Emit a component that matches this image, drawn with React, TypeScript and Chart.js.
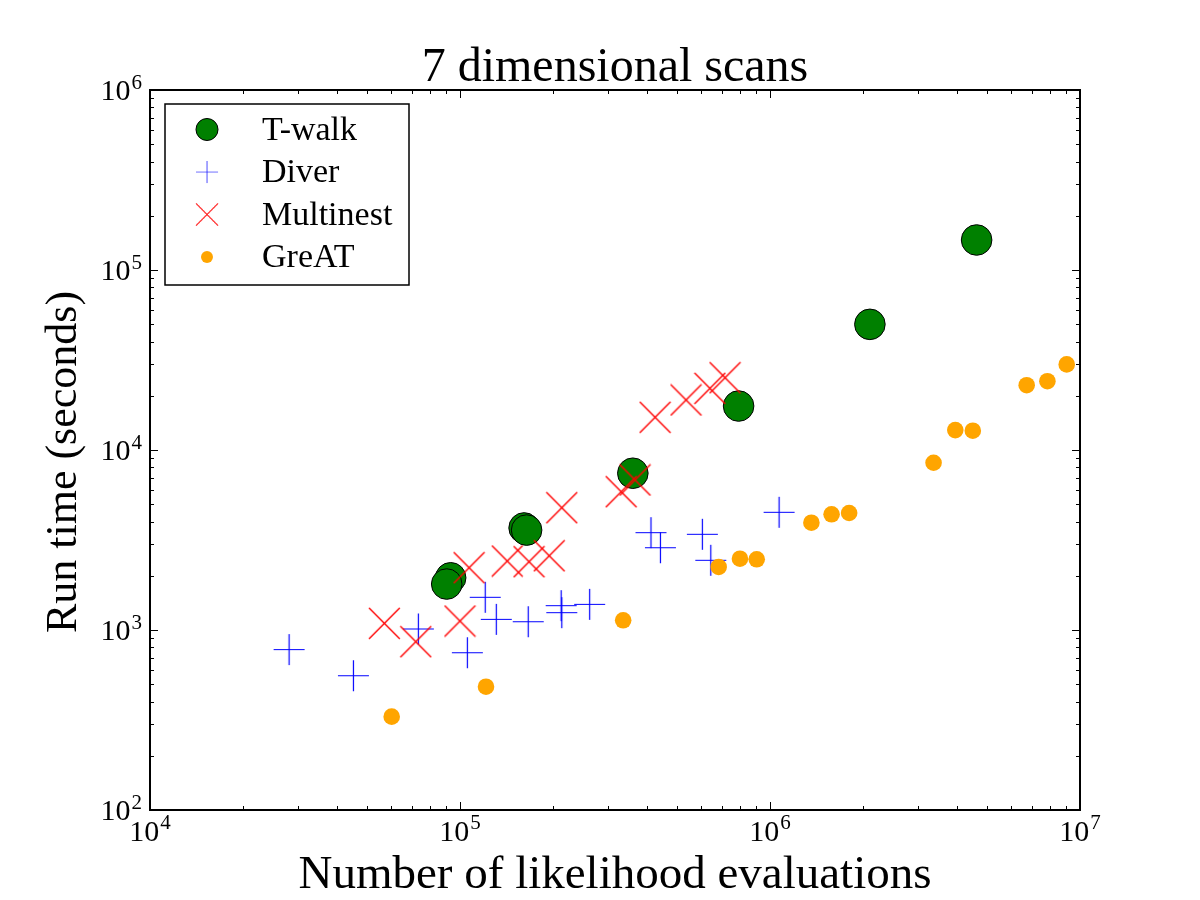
import React, { useEffect, useRef } from "react";
import { Chart, registerables } from "chart.js";

Chart.register(...registerables);

// Number of likelihood evaluations (x) and run time in seconds (y) per scanner
const twalkEvals = [9.33e4, 9.06e4, 1.61e5, 1.64e5, 3.61e5, 7.92e5, 2.1e6, 4.64e6];
const twalkTime = [1950, 1800, 3690, 3590, 7430, 17550, 49900, 146800];

const diverEvals = [
  2.81e4, 4.53e4, 7.34e4, 1.056e5, 1.206e5, 1.309e5, 1.66e5, 2.12e5, 2.13e5, 2.62e5,
  4.13e5, 4.43e5, 6.05e5, 6.44e5, 1.07e6,
];
const diverTime = [778, 557, 1013, 748, 1520, 1146, 1112, 1365, 1248, 1389, 3473, 2866, 3401, 2440, 4508];

const multinestEvals = [
  5.7e4, 7.2e4, 1.0e5, 1.07e5, 1.42e5, 1.67e5, 1.94e5, 2.13e5, 3.31e5, 3.67e5, 4.26e5,
  5.36e5, 6.4e5, 7.16e5,
];
const multinestTime = [1089, 861, 1122, 2219, 2417, 2395, 2585, 4780, 5865, 6813, 15200, 18960, 22000, 25200];

const greatEvals = [
  6.02e4, 1.213e5, 3.36e5, 6.83e5, 8.0e5, 9.06e5, 1.36e6, 1.58e6, 1.8e6, 3.37e6, 3.96e6,
  4.51e6, 6.73e6, 7.85e6, 9.06e6,
];
const greatTime = [330, 484, 1132, 2239, 2489, 2471, 3945, 4394, 4467, 8495, 12900, 12800, 22900, 24100, 29900];

const seriesNames = ["T-walk", "Diver", "Multinest", "GreAT"];

const xDecades = [4, 5, 6, 7];
const yDecades = [2, 3, 4, 5, 6];

const titleText = "7 dimensional scans";
const xTitle = "Number of likelihood evaluations";
const yTitle = "Run time (seconds)";

const SERIF = '"Liberation Serif", "Times New Roman", serif';

const pairs = (xs: number[], ys: number[]) => xs.map((x, i) => ({ x, y: ys[i] }));

// Thin-line marker sprites ("+" and "x") used as point styles
function lineMarker(color: string, half: number, rotated: boolean, width: number): HTMLCanvasElement {
  const size = Math.ceil(half * 2) + 2;
  const c = document.createElement("canvas");
  c.width = size;
  c.height = size;
  const g = c.getContext("2d")!;
  const m = size / 2;
  g.strokeStyle = color;
  g.lineWidth = width;
  g.beginPath();
  if (rotated) {
    g.moveTo(m - half, m - half);
    g.lineTo(m + half, m + half);
    g.moveTo(m - half, m + half);
    g.lineTo(m + half, m - half);
  } else {
    g.moveTo(m - half, m);
    g.lineTo(m + half, m);
    g.moveTo(m, m - half);
    g.lineTo(m, m + half);
  }
  g.stroke();
  return c;
}

function drawPower(
  ctx: CanvasRenderingContext2D,
  exp: string,
  x: number,
  baseY: number,
  align: "center" | "right",
  size: number,
  supShift: number
) {
  const big = `${size}px ${SERIF}`;
  const small = `${Math.round(size * 0.7)}px ${SERIF}`;
  ctx.font = big;
  const wb = ctx.measureText("10").width;
  ctx.font = small;
  const we = ctx.measureText(exp).width;
  const total = wb + 1 + we;
  const left = align === "center" ? x - total / 2 : x - total;
  ctx.textAlign = "left";
  ctx.textBaseline = "alphabetic";
  ctx.font = big;
  ctx.fillText("10", left, baseY);
  ctx.font = small;
  ctx.fillText(exp, left + wb + 1, baseY - supShift);
}

function drawMarker(ctx: CanvasRenderingContext2D, ds: any, cx: number, cy: number, scale: number) {
  ctx.save();
  if (typeof ds.pointStyle !== "string") {
    const img = ds.pointStyle as HTMLCanvasElement;
    const w = img.width * scale;
    const h = img.height * scale;
    ctx.drawImage(img, cx - w / 2, cy - h / 2, w, h);
  } else {
    const r = ds.pointRadius * scale;
    ctx.lineWidth = ds.pointBorderWidth;
    ctx.strokeStyle = ds.pointBorderColor;
    ctx.fillStyle = ds.pointBackgroundColor;
    ctx.beginPath();
    ctx.arc(cx, cy, r, 0, Math.PI * 2);
    ctx.fill();
    if (ds.pointBorderWidth > 0) ctx.stroke();
  }
  ctx.restore();
}

// Frame, inward ticks on all four sides, power-of-ten labels, titles and the legend box
const decorations = {
  id: "decorations",
  afterDraw(chart: any) {
    const { ctx, chartArea: a, scales } = chart;
    const xs = scales.x;
    const ys = scales.y;
    ctx.save();

    // minor and major ticks
    ctx.strokeStyle = "#000";
    ctx.lineWidth = 1;
    ctx.beginPath();
    for (let k = xDecades[0]; k <= xDecades[xDecades.length - 1]; k++) {
      for (let m = 1; m <= 9; m++) {
        const v = m * Math.pow(10, k);
        if (v < xs.min || v > xs.max) continue;
        const p = Math.round(xs.getPixelForValue(v)) + 0.5;
        const len = m === 1 ? 8 : 4;
        ctx.moveTo(p, a.bottom);
        ctx.lineTo(p, a.bottom - len);
        ctx.moveTo(p, a.top);
        ctx.lineTo(p, a.top + len);
      }
    }
    for (let k = yDecades[0]; k <= yDecades[yDecades.length - 1]; k++) {
      for (let m = 1; m <= 9; m++) {
        const v = m * Math.pow(10, k);
        if (v < ys.min || v > ys.max) continue;
        const p = Math.round(ys.getPixelForValue(v)) + 0.5;
        const len = m === 1 ? 8 : 4;
        ctx.moveTo(a.left, p);
        ctx.lineTo(a.left + len, p);
        ctx.moveTo(a.right, p);
        ctx.lineTo(a.right - len, p);
      }
    }
    ctx.stroke();

    // axes frame
    ctx.lineWidth = 2;
    ctx.strokeRect(a.left, a.top, a.right - a.left, a.bottom - a.top);

    // tick labels
    ctx.fillStyle = "#000";
    xDecades.forEach((k) => {
      const p = xs.getPixelForValue(Math.pow(10, k));
      drawPower(ctx, String(k), p, a.bottom + 31, "center", 30, 12);
    });
    yDecades.forEach((k) => {
      const p = ys.getPixelForValue(Math.pow(10, k));
      drawPower(ctx, String(k), a.left - 8, p + 9.5, "right", 30, 11);
    });

    // titles
    ctx.textAlign = "center";
    ctx.textBaseline = "alphabetic";
    const cx = (a.left + a.right) / 2;
    ctx.font = `48px ${SERIF}`;
    ctx.fillText(titleText, cx, a.top - 9);
    ctx.font = `47px ${SERIF}`;
    ctx.fillText(xTitle, cx, a.bottom + 78);
    ctx.save();
    ctx.translate(a.left - 74, (a.top + a.bottom) / 2 + 12);
    ctx.rotate(-Math.PI / 2);
    ctx.font = `44px ${SERIF}`;
    ctx.fillText(yTitle, 0, 0);
    ctx.restore();

    // legend
    const lx = a.left + 15;
    const ly = a.top + 14;
    const lw = 244;
    const lh = 181;
    ctx.fillStyle = "#fff";
    ctx.fillRect(lx, ly, lw, lh);
    ctx.lineWidth = 1.5;
    ctx.strokeStyle = "#000";
    ctx.strokeRect(lx, ly, lw, lh);
    chart.data.datasets.forEach((ds: any, i: number) => {
      const ry = ly + 25.5 + i * 42.5;
      drawMarker(ctx, ds, lx + 42, ry, 0.72);
      ctx.fillStyle = "#000";
      ctx.textAlign = "left";
      ctx.font = `34px ${SERIF}`;
      ctx.fillText(ds.label, lx + 97, ry + 10);
    });

    ctx.restore();
  },
};

export default function App() {
  const canvasRef = useRef<HTMLCanvasElement | null>(null);

  useEffect(() => {
    if (!canvasRef.current) return;
    const plus = lineMarker("#0000ff", 15.5, false, 1.2);
    const cross = lineMarker("#ff0000", 15.4, true, 1.4);
    const chart = new Chart(canvasRef.current, {
      type: "scatter",
      data: {
        datasets: [
          {
            label: seriesNames[0],
            data: pairs(twalkEvals, twalkTime),
            pointStyle: "circle",
            pointRadius: 15.3,
            backgroundColor: "#008000",
            borderColor: "#000",
            pointBackgroundColor: "#008000",
            pointBorderColor: "#000",
            pointBorderWidth: 1,
            order: 4,
          },
          {
            label: seriesNames[1],
            data: pairs(diverEvals, diverTime),
            pointStyle: plus,
            pointRadius: 16,
            backgroundColor: "#0000ff",
            borderColor: "#0000ff",
            pointBorderWidth: 0,
            order: 3,
          },
          {
            label: seriesNames[2],
            data: pairs(multinestEvals, multinestTime),
            pointStyle: cross,
            pointRadius: 16,
            backgroundColor: "#ff0000",
            borderColor: "#ff0000",
            pointBorderWidth: 0,
            order: 2,
          },
          {
            label: seriesNames[3],
            data: pairs(greatEvals, greatTime),
            pointStyle: "circle",
            pointRadius: 8.3,
            backgroundColor: "#ffa500",
            borderColor: "#ffa500",
            pointBackgroundColor: "#ffa500",
            pointBorderColor: "#ffa500",
            pointBorderWidth: 0,
            order: 1,
          },
        ] as any,
      },
      options: {
        responsive: false,
        animation: false,
        layout: { padding: { left: 0, right: 120, top: 90, bottom: 0 } },
        plugins: {
          legend: { display: false },
          title: { display: false },
          tooltip: { enabled: false },
        },
        scales: {
          x: {
            type: "logarithmic",
            min: 1e4,
            max: 1e7,
            grid: { display: false },
            border: { display: false },
            ticks: { display: false },
            afterFit: (s: any) => {
              s.height = 90;
            },
          },
          y: {
            type: "logarithmic",
            min: 1e2,
            max: 1e6,
            grid: { display: false },
            border: { display: false },
            ticks: { display: false },
            afterFit: (s: any) => {
              s.width = 150;
            },
          },
        },
      },
      plugins: [decorations],
    });
    return () => chart.destroy();
  }, []);

  return (
    <div style={{ position: "absolute", left: 0, top: 0, width: 1200, height: 900, background: "#fff" }}>
      <canvas ref={canvasRef} width={1200} height={900} />
    </div>
  );
}
